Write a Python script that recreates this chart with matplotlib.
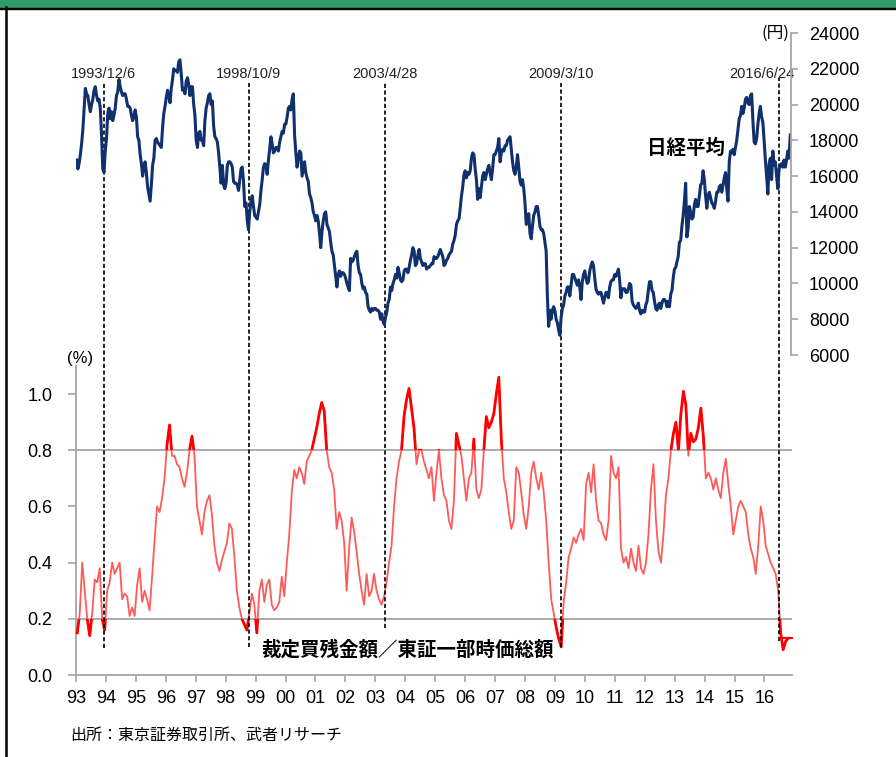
from datetime import date

import matplotlib
matplotlib.use("Agg")
import matplotlib.pyplot as plt
import numpy as np
from matplotlib import font_manager
from matplotlib.lines import Line2D
from matplotlib.patches import Rectangle
from matplotlib.transforms import blended_transform_factory

# ---- data ----
# Nikkei average, two readings per month from Jan 1993
nikkei_yen = [
    16900, 16400, 16700, 17200, 17800, 18600, 19800, 20900, 20600, 20500, 20000, 19600,
    20000, 20300, 20800, 21000, 20500, 20200, 20300, 19800, 18300, 16400, 16200, 17400,  # 1993
    18100, 19500, 19800, 19200, 19600, 19100, 19400, 19800, 20500, 20700, 21400, 21000,
    20700, 20500, 20600, 20600, 20300, 19900, 19900, 19800, 19400, 19100, 19300, 19700,  # 1994
    19300, 18200, 18000, 17200, 16700, 16000, 16500, 16800, 16200, 15400, 15000, 14600,
    15500, 16600, 17000, 18000, 18100, 17900, 17800, 17700, 17600, 18700, 19500, 19900,  # 1995
    20400, 20800, 20500, 20100, 20900, 21400, 22000, 21900, 21900, 21800, 22400, 22500,
    21700, 20800, 20900, 20600, 21300, 21500, 21100, 20500, 21000, 21000, 20000, 19400,  # 1996
    18000, 17600, 18400, 18500, 18000, 18000, 17700, 19100, 19800, 20100, 20500, 20600,
    20000, 20200, 18800, 18200, 18100, 17900, 17300, 16500, 15600, 16600, 15500, 15300,  # 1997
    15600, 16600, 16800, 16800, 16700, 16500, 15700, 15600, 15600, 15500, 15200, 15800,
    16400, 16500, 15700, 14300, 14500, 13500, 13000, 14000, 14600, 14900, 14300, 13800,  # 1998
    13700, 13600, 14000, 14400, 15200, 15800, 16500, 16700, 16600, 16100, 16900, 17500,
    18200, 17800, 17300, 17400, 17600, 17600, 17400, 17900, 18200, 18500, 18400, 18900,  # 1999
    18900, 19300, 19800, 19900, 19700, 20300, 20600, 18300, 17300, 16500, 17000, 17400,
    17300, 16000, 16400, 16800, 16200, 15900, 15700, 15000, 14800, 14500, 14000, 13800,  # 2000
    13500, 13800, 13500, 12800, 12000, 12900, 13500, 13900, 14000, 13300, 13100, 12900,
    12300, 11800, 11600, 11000, 10400, 9800, 10500, 10700, 10400, 10600, 10600, 10500,  # 2001
    10300, 10000, 9800, 9600, 11400, 11200, 11300, 11500, 11700, 11800, 11000, 10600,
    10500, 10000, 9700, 9800, 9500, 9400, 8700, 8500, 8400, 8600, 8500, 8600,  # 2002
    8600, 8500, 8500, 8400, 8000, 8300, 7900, 7700, 8100, 8400, 8900, 9100,
    9800, 9600, 10000, 10200, 10500, 10300, 10900, 10600, 10200, 10100, 10200, 10700,  # 2003
    10800, 10800, 10600, 10900, 11300, 11600, 12000, 11800, 11000, 11100, 11600, 11900,
    11400, 11200, 11000, 11100, 11100, 10800, 10900, 10900, 11000, 11100, 11100, 11500,  # 2004
    11400, 11400, 11500, 11700, 11900, 11700, 11500, 11000, 11100, 11300, 11400, 11600,
    11700, 11800, 12200, 12400, 12700, 13300, 13500, 13600, 14200, 14900, 15400, 16100,  # 2005
    16300, 15900, 16200, 16100, 16300, 17000, 17300, 17200, 16400, 15800, 14700, 15300,
    14800, 15400, 16000, 16200, 15800, 16100, 16400, 16600, 16200, 15800, 16400, 17200,  # 2006
    17200, 17400, 17600, 18100, 16800, 17300, 17500, 17400, 17700, 17700, 18000, 18100,
    18200, 17500, 16800, 16300, 16100, 16500, 17200, 16500, 15700, 15500, 15800, 15300,  # 2007
    14500, 13300, 13500, 13900, 12800, 12500, 13200, 13800, 14000, 14300, 14300, 13800,
    13200, 13000, 13000, 12800, 12300, 11800, 9200, 7600, 8500, 8000, 8500, 8700,  # 2008
    8500, 8000, 7800, 7400, 7100, 8100, 8600, 8800, 9300, 9500, 9800, 9800,
    9300, 9900, 10500, 10500, 10300, 10100, 9900, 10200, 9800, 9100, 10100, 10500,  # 2009
    10700, 10300, 10000, 10100, 10700, 11000, 11200, 11000, 10300, 9700, 9500, 9400,
    9500, 9500, 9200, 8900, 9200, 9500, 9500, 9200, 9800, 10100, 10200, 10200,  # 2010
    10500, 10400, 10600, 10800, 10200, 9200, 9700, 9700, 9700, 9500, 9500, 9700,
    10000, 9900, 9000, 8800, 8700, 8600, 8700, 8900, 8500, 8300, 8500, 8400,  # 2011
    8400, 8800, 9000, 9600, 10100, 10100, 9600, 9500, 9000, 8600, 8500, 8800,
    8900, 8600, 8900, 9100, 9100, 9000, 8700, 9000, 8700, 9400, 9600, 10300,  # 2012
    10800, 10900, 11200, 11500, 12300, 12400, 13200, 13800, 14600, 15600, 12600, 13100,
    14300, 14000, 13600, 13700, 14400, 14700, 14300, 14300, 14900, 15500, 15600, 16300,  # 2013
    15800, 14900, 14200, 14900, 15100, 14800, 14500, 14400, 14200, 14600, 15100, 15100,
    15400, 15500, 15100, 15500, 15900, 16200, 15300, 14600, 16800, 17400, 17300, 17500,  # 2014
    17200, 17600, 18000, 18600, 19200, 19400, 19900, 19500, 19800, 20300, 20400, 20100,
    20000, 20500, 20600, 19100, 17900, 17800, 18100, 18900, 19500, 19900, 19300, 19000,  # 2015
    18000, 16900, 16000, 15000, 16700, 17000, 15800, 17400, 16600, 16800, 16000, 15300,
    16400, 16600, 16700, 16500, 16900, 16500, 16900, 17400, 17000, 18300,  # 2016
]

# margin buying balance / TSE 1st section market cap (%), monthly from Jan 1993
margin_pct = [
    0.15, 0.22, 0.40, 0.30, 0.20, 0.14, 0.22, 0.34, 0.33, 0.38, 0.20, 0.16,  # 1993
    0.30, 0.33, 0.40, 0.36, 0.38, 0.40, 0.27, 0.29, 0.28, 0.21, 0.24, 0.21,  # 1994
    0.32, 0.38, 0.26, 0.30, 0.27, 0.23, 0.35, 0.48, 0.60, 0.58, 0.63, 0.70,  # 1995
    0.82, 0.89, 0.78, 0.78, 0.75, 0.74, 0.70, 0.67, 0.72, 0.80, 0.85, 0.78,  # 1996
    0.60, 0.55, 0.50, 0.58, 0.62, 0.64, 0.57, 0.46, 0.40, 0.37, 0.41, 0.44,  # 1997
    0.47, 0.54, 0.52, 0.42, 0.30, 0.24, 0.20, 0.18, 0.16, 0.22, 0.29, 0.25,  # 1998
    0.15, 0.30, 0.34, 0.26, 0.32, 0.34, 0.25, 0.23, 0.24, 0.26, 0.35, 0.28,  # 1999
    0.40, 0.50, 0.65, 0.73, 0.70, 0.74, 0.72, 0.68, 0.76, 0.78, 0.80, 0.84,  # 2000
    0.88, 0.93, 0.97, 0.94, 0.80, 0.74, 0.72, 0.66, 0.52, 0.58, 0.55, 0.47,  # 2001
    0.30, 0.45, 0.56, 0.51, 0.44, 0.36, 0.30, 0.25, 0.36, 0.28, 0.30, 0.36,  # 2002
    0.30, 0.27, 0.25, 0.28, 0.33, 0.40, 0.46, 0.60, 0.70, 0.76, 0.80, 0.92,  # 2003
    0.98, 1.02, 0.95, 0.88, 0.75, 0.80, 0.80, 0.76, 0.73, 0.70, 0.74, 0.62,  # 2004
    0.72, 0.80, 0.70, 0.64, 0.62, 0.55, 0.52, 0.62, 0.86, 0.82, 0.78, 0.70,  # 2005
    0.62, 0.70, 0.72, 0.84, 0.66, 0.63, 0.66, 0.80, 0.92, 0.88, 0.90, 0.93,  # 2006
    1.00, 1.06, 0.84, 0.70, 0.65, 0.58, 0.52, 0.55, 0.74, 0.72, 0.65, 0.57,  # 2007
    0.52, 0.60, 0.72, 0.76, 0.70, 0.66, 0.72, 0.65, 0.55, 0.40, 0.27, 0.22,  # 2008
    0.17, 0.13, 0.10, 0.26, 0.33, 0.42, 0.45, 0.49, 0.47, 0.50, 0.52, 0.48,  # 2009
    0.68, 0.72, 0.65, 0.75, 0.62, 0.55, 0.54, 0.50, 0.48, 0.55, 0.78, 0.72,  # 2010
    0.70, 0.74, 0.45, 0.40, 0.42, 0.38, 0.45, 0.40, 0.37, 0.46, 0.38, 0.36,  # 2011
    0.40, 0.50, 0.66, 0.75, 0.55, 0.44, 0.40, 0.50, 0.64, 0.70, 0.80, 0.86,  # 2012
    0.90, 0.80, 0.93, 1.01, 0.96, 0.78, 0.86, 0.83, 0.84, 0.88, 0.95, 0.85,  # 2013
    0.70, 0.72, 0.70, 0.66, 0.70, 0.66, 0.63, 0.72, 0.77, 0.68, 0.60, 0.50,  # 2014
    0.55, 0.60, 0.62, 0.60, 0.58, 0.50, 0.45, 0.42, 0.36, 0.46, 0.60, 0.55,  # 2015
    0.46, 0.43, 0.40, 0.38, 0.36, 0.30, 0.15, 0.09, 0.12, 0.13,  # 2016
]

event_dates = [date(1993, 12, 6), date(1998, 10, 9), date(2003, 4, 28),
               date(2009, 3, 10), date(2016, 6, 24)]
event_labels = ["1993/12/6", "1998/10/9", "2003/4/28", "2009/3/10", "2016/6/24"]

guide_levels = [0.2, 0.8]
year_ticks = list(range(1993, 2017))
year_labels = [f"{y % 100:02d}" for y in year_ticks]
pct_ticks = [0.0, 0.2, 0.4, 0.6, 0.8, 1.0]
yen_ticks = list(range(6000, 24001, 2000))

# ---- look ----
W, H = 896, 757
names = {f.name for f in font_manager.fontManager.ttflist}
latin = "Liberation Sans"
if "Liberation Sans Narrow" in names:
    narrow, year_size, event_size = "Liberation Sans Narrow", 15.5, 12.5
else:
    narrow, year_size, event_size = latin, 13, 10.5
jp = ["Noto Sans CJK JP", "DejaVu Sans"]
grey = "#a6a6a6"
navy = "#10306e"


def fx(px):
    return px / W


def fy(py):
    return 1 - py / H


def frac_year(d):
    return d.year + (d.timetuple().tm_yday - 1) / 365.0


nk_x = 1993 + (np.arange(len(nikkei_yen)) + 0.5) / 24
mr_x = 1993 + (np.arange(len(margin_pct)) + 0.5) / 12
x_end = 2016.92

fig = plt.figure(figsize=(W / 100, H / 100), dpi=100)

# bottom panel: margin ratio
ax2 = fig.add_axes([fx(76), fy(675), fx(792) - fx(76), fy(366) - fy(675)])
ax2.set_xlim(1993, x_end)
ax2.set_ylim(0, 1.1)
for lv in guide_levels:
    ax2.axhline(lv, color=grey, lw=1.3, zorder=1)
ax2.plot(mr_x, margin_pct, color="#ff5a5a", lw=1.3, zorder=2)
for y0, h in [(0.8, 1.0), (-1.0, 1.2)]:
    hi, = ax2.plot(mr_x, margin_pct, color="#ff0000", lw=2.0, zorder=3)
    hi.set_clip_path(Rectangle((1990, y0), 40, h, transform=ax2.transData))
ax2.plot(mr_x[-1], margin_pct[-1], marker="_", ms=10, mew=1.5, color="#ff0000", zorder=3)

for s in ["top", "right"]:
    ax2.spines[s].set_visible(False)
for s in ["left", "bottom"]:
    ax2.spines[s].set_color(grey)
    ax2.spines[s].set_linewidth(1.3)
ax2.set_xticks(year_ticks)
ax2.set_xticklabels(year_labels, fontfamily=narrow, fontsize=year_size)
ax2.set_yticks(pct_ticks)
ax2.set_yticklabels([f"{v:.1f}" for v in pct_ticks], fontfamily=latin, fontsize=13)
ax2.tick_params(axis="x", length=5, width=1.2, color=grey, pad=6)
ax2.tick_params(axis="y", length=6, width=1.2, color=grey, pad=11)

# top panel: Nikkei
ax1 = fig.add_axes([fx(76), fy(355), fx(791) - fx(76), fy(33) - fy(355)])
ax1.patch.set_alpha(0)
ax1.set_xlim(1993, x_end)
ax1.set_ylim(6000, 24000)
ax1.plot(nk_x, nikkei_yen, color=navy, lw=2.2)
for s in ["top", "left", "bottom"]:
    ax1.spines[s].set_visible(False)
ax1.spines["right"].set_color(grey)
ax1.spines["right"].set_linewidth(1.3)
ax1.set_xticks([])
ax1.yaxis.tick_right()
ax1.set_yticks(yen_ticks)
ax1.set_yticklabels([str(v) for v in yen_ticks], fontfamily=latin, fontsize=13)
ax1.tick_params(axis="y", length=5, width=1.2, color=grey, pad=8)

# event markers spanning both panels
trans = blended_transform_factory(ax2.transData, fig.transFigure)
line_tops = [83, 83, 83, 83, 78]
line_bottoms = [648, 647, 628, 647, 641]
label_shift = [0, 0, 0, 0, -12]
for d, lab, t, b, sh in zip(event_dates, event_labels, line_tops, line_bottoms, label_shift):
    x = frac_year(d)
    ax2.plot([x, x], [fy(b), fy(t)], transform=trans, clip_on=False,
             color="black", lw=1.2, ls=(0, (2.5, 1.5)), zorder=4)
    ax2.annotate(lab, xy=(x, fy(74)), xycoords=trans, xytext=(sh, 0),
                 textcoords="offset points", ha="center", va="center",
                 fontfamily=narrow, fontsize=event_size, color="#222222")

# text
fig.text(fx(789), fy(33), "(円)", ha="right", va="center", fontsize=12, family=jp)
fig.text(fx(80), fy(358), "(%)", ha="center", va="center", fontsize=12, family=latin)
fig.text(fx(686), fy(148), "日経平均", ha="center", va="center",
         fontsize=14, fontweight="bold", family=jp)
fig.text(fx(408), fy(650), "裁定買残金額／東証一部時価総額", ha="center", va="center",
         fontsize=14, fontweight="bold", family=jp)
fig.text(fx(70), fy(735), "出所：東京証券取引所、武者リサーチ", ha="left", va="center",
         fontsize=11.5, family=jp)

# frame: green header strip, black rule and left border
fig.patches.append(Rectangle((0, fy(7.4)), 1, 7.4 / H, transform=fig.transFigure,
                             color="#2f9a68", zorder=0))
fig.lines.append(Line2D([0, 1], [fy(8.6), fy(8.6)], transform=fig.transFigure,
                        color="black", lw=1.7))
fig.lines.append(Line2D([fx(5.5), fx(5.5)], [0, fy(7.4)], transform=fig.transFigure,
                        color="black", lw=1.8))

fig.savefig("out.png", dpi=100)
